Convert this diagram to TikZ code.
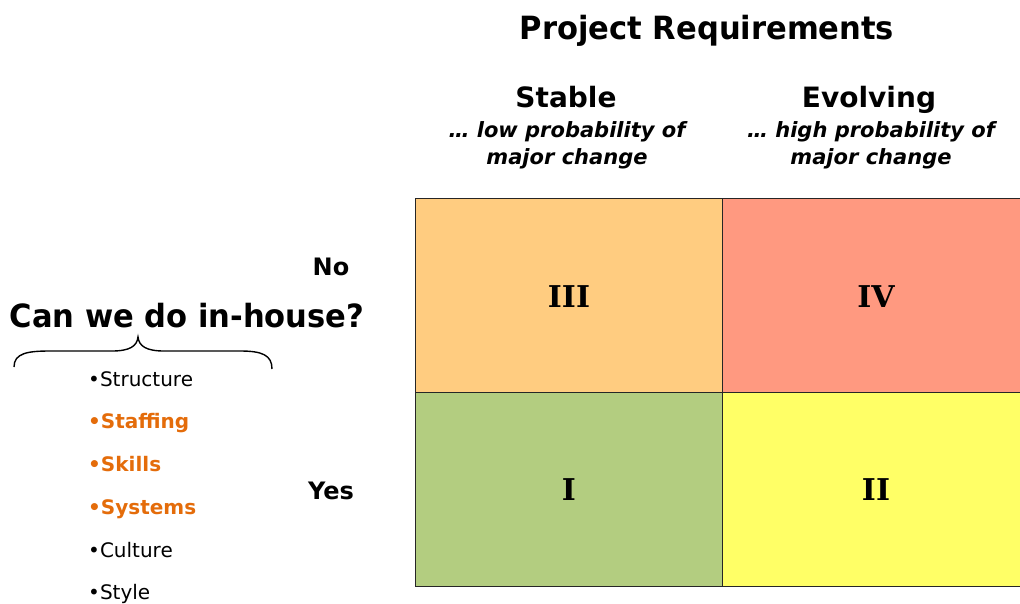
\documentclass[tikz,border=0pt]{standalone}
\usepackage{fontspec}
\setmainfont{DejaVu Sans}
\newfontfamily\condfont{DejaVu Sans}[FakeStretch=0.955]
\newfontfamily\numfont{DejaVu Serif}
\definecolor{cIII}{HTML}{FFCC80}
\definecolor{cIV}{HTML}{FF9980}
\definecolor{cI}{HTML}{B3CD80}
\definecolor{cII}{HTML}{FFFF66}
\definecolor{orng}{HTML}{E46C0A}
\begin{document}
\begin{tikzpicture}[x=1pt,y=-1pt,
  cell/.style={draw=black!85,line width=1.3pt,minimum width=307pt,minimum height=194pt,inner sep=0pt,anchor=north west},
  numlbl/.style={font=\numfont\bfseries\fontsize{30}{30}\selectfont},
  big/.style={anchor=base,font=\condfont\bfseries\fontsize{32}{32}\selectfont,inner sep=0pt},
  colhead/.style={anchor=base,font=\bfseries\fontsize{28}{28}\selectfont,inner sep=0pt},
  sub/.style={anchor=base,font=\bfseries\itshape\fontsize{21}{21}\selectfont,inner sep=0pt},
  rowlbl/.style={anchor=base,font=\bfseries\fontsize{24}{24}\selectfont,inner sep=0pt},
  item/.style={anchor=base west,font=\fontsize{20}{20}\selectfont,inner sep=0pt},
  oitem/.style={item,font=\bfseries\fontsize{20}{20}\selectfont,text=orng}]
\useasboundingbox (0,0) rectangle (1020,603);
\begin{scope}
\clip (0,0) rectangle (1020,603);
\node[cell,fill=cIII] (c3) at (415,198) {};
\node[cell,fill=cIV] (c4) at (722,198) {};
\node[cell,fill=cI] (c1) at (415,392) {};
\node[cell,fill=cII] (c2) at (722,392) {};
\end{scope}
\node[numlbl] (n3) at (569,297) {III};
\node[numlbl] (n4) at (876,297) {IV};
\node[numlbl] (n1) at (569,490) {I};
\node[numlbl] (n2) at (876,490) {II};

\node[big] (title) at (707,39) {Project Requirements};
\node[colhead] (stable) at (566,107) {Stable};
\node[colhead] (evolv) at (869,107) {Evolving};
\node[sub] (s1) at (567,137) {… low probability of};
\node[sub] (s2) at (567,164) {major change};
\node[sub] (e1) at (871,137) {… high probability of};
\node[sub] (e2) at (871,164) {major change};
\node[rowlbl] (no) at (331,275) {No};
\node[rowlbl] (yes) at (331,499) {Yes};
\node[big] (q) at (187,327) {Can we do in-house?};
\draw[line width=1.4pt] (14,367) .. controls (14,353) and (28,351) .. (50,351) -- (112,351) .. controls (130,351) and (137,346) .. (138,337) .. controls (139,346) and (146,351) .. (164,351) -- (240,351) .. controls (262,351) and (272,355) .. (272,369);
\node[item] (b1) at (88,386) {•Structure};
\node[oitem] (b2) at (88,428) {•Staffing};
\node[oitem] (b3) at (88,471) {•Skills};
\node[oitem] (b4) at (88,514) {•Systems};
\node[item] (b5) at (88,557) {•Culture};
\node[item] (b6) at (88,599) {•Style};
\end{tikzpicture}
\end{document}
